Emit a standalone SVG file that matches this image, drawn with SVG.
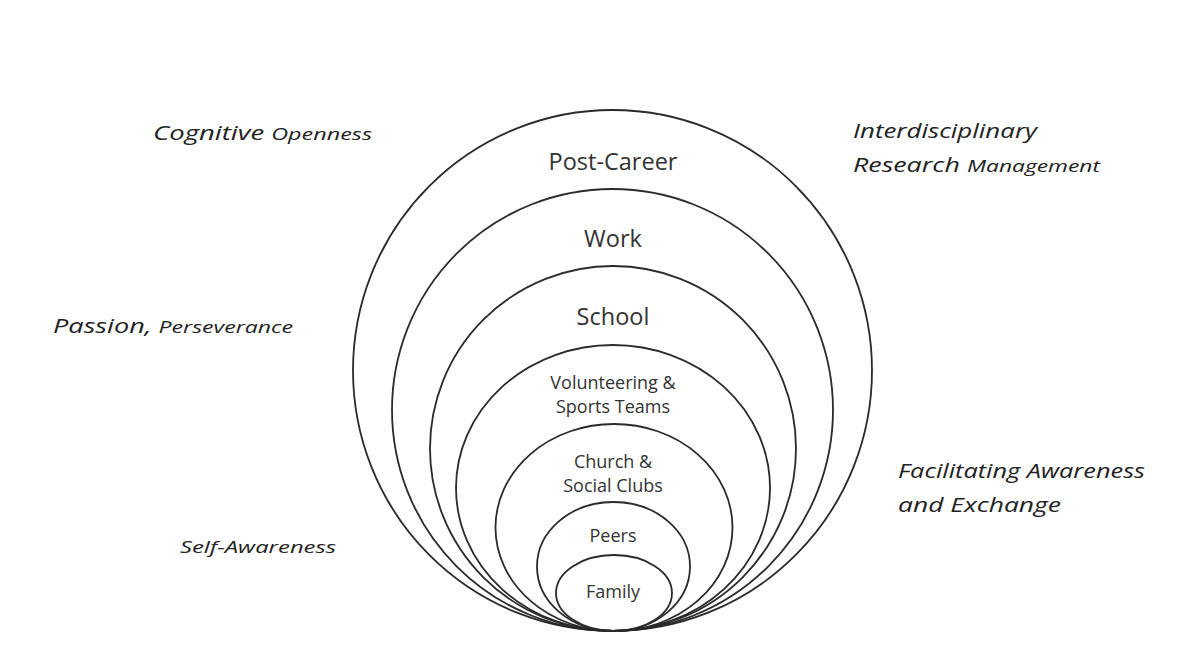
<svg xmlns="http://www.w3.org/2000/svg" width="1177" height="664" viewBox="0 0 1177 664">
<style>
.ring{fill:none;stroke:#2a2a2a;stroke-width:1.8}
.lbl{font-family:"Open Sans","Liberation Sans",sans-serif;fill:#333;text-anchor:middle}
.big{font-size:23.5px}
.sm{font-size:18px}
.it{font-family:"Open Sans","Liberation Sans",sans-serif;font-style:italic;fill:#222}
.l{font-size:20px}
.s{font-size:17px}
</style>
<rect width="1177" height="664" fill="#fff"/>
<g id="post-career">
<ellipse class="ring" cx="612.5" cy="370.5" rx="259.5" ry="260.5"/>
<text class="lbl big" x="613" y="170">Post-Career</text>
</g>
<g id="work">
<ellipse class="ring" cx="612.5" cy="410" rx="220.5" ry="221"/>
<text class="lbl big" x="613" y="247">Work</text>
</g>
<g id="school">
<ellipse class="ring" cx="613" cy="448.5" rx="183" ry="182.5"/>
<text class="lbl big" x="613" y="325">School</text>
</g>
<g id="volunteering">
<ellipse class="ring" cx="613" cy="488" rx="157" ry="143"/>
<text class="lbl sm" x="613" y="389">Volunteering &amp;</text>
<text class="lbl sm" x="613" y="413">Sports Teams</text>
</g>
<g id="church">
<ellipse class="ring" cx="614" cy="527.5" rx="118.5" ry="103.5"/>
<text class="lbl sm" x="613" y="468">Church &amp;</text>
<text class="lbl sm" x="613" y="492">Social Clubs</text>
</g>
<g id="peers">
<ellipse class="ring" cx="613.5" cy="566.5" rx="76.5" ry="64.5"/>
<text class="lbl sm" x="613" y="542">Peers</text>
</g>
<g id="family">
<ellipse class="ring" cx="614" cy="593" rx="58" ry="38"/>
<text class="lbl sm" x="613" y="598">Family</text>
</g>
<g id="cognitive-openness">
<text class="it" x="153" y="140" textLength="219" lengthAdjust="spacingAndGlyphs"><tspan class="l">Cognitive </tspan><tspan class="s">Openness</tspan></text>
</g>
<g id="interdisciplinary">
<text class="it l" x="853" y="138" textLength="184" lengthAdjust="spacingAndGlyphs">Interdisciplinary</text>
<text class="it" x="853" y="172" textLength="247" lengthAdjust="spacingAndGlyphs"><tspan class="l">Research </tspan><tspan class="s">Management</tspan></text>
</g>
<g id="passion">
<text class="it" x="53" y="333" textLength="240" lengthAdjust="spacingAndGlyphs"><tspan class="l">Passion, </tspan><tspan class="s">Perseverance</tspan></text>
</g>
<g id="facilitating">
<text class="it l" x="898" y="478" textLength="247" lengthAdjust="spacingAndGlyphs">Facilitating Awareness</text>
<text class="it l" x="898" y="512" textLength="163" lengthAdjust="spacingAndGlyphs">and Exchange</text>
</g>
<g id="self-awareness">
<text class="it s" x="180" y="553" textLength="156" lengthAdjust="spacingAndGlyphs">Self-Awareness</text>
</g>
<g id="connectors"/>
</svg>
